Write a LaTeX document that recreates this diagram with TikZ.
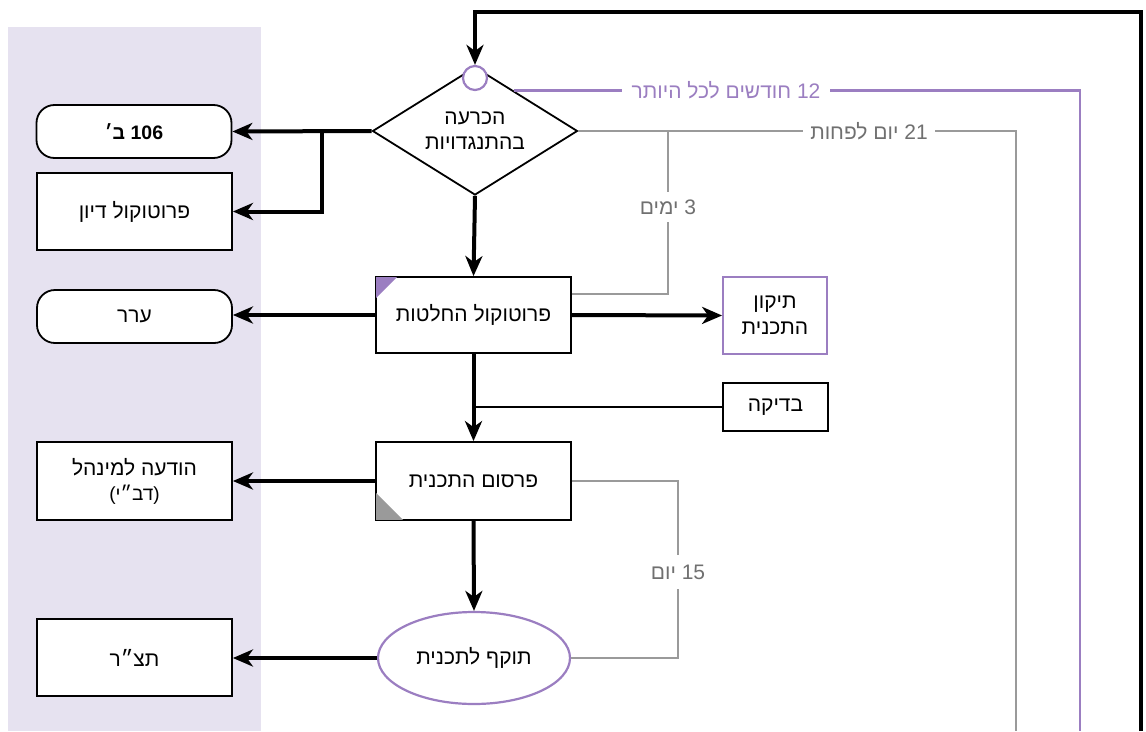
\documentclass[tikz,border=0pt]{standalone}
\usepackage{fontspec}
\setmainfont{Liberation Sans}
\newfontfamily\hebfont[Script=Hebrew]{Liberation Sans}
\TeXXeTstate=1
\usetikzlibrary{arrows.meta,shapes.geometric,calc}
\definecolor{bgl}{HTML}{E6E2F0}
\definecolor{purp}{HTML}{9B7EC1}
\definecolor{grayl}{HTML}{9A9A9A}
\definecolor{grayt}{HTML}{707070}
\newcommand{\heb}[1]{{\hebfont\beginR #1\endR}}
\newcommand{\num}[1]{\beginL #1\endL{}}
\tikzset{
  boxs/.style={draw=black, line width=1.8pt, fill=white, minimum width=195pt, minimum height=77pt, align=center, inner sep=0pt,
    font=\hebfont\fontsize{21}{26}\selectfont},
  rbox/.style={boxs, rounded corners=18pt, minimum height=53pt},
  flow/.style={line width=4pt, -{Stealth[length=20pt,width=17pt,inset=6pt]}},
  pline/.style={draw=purp, line width=2.4pt},
  gline/.style={draw=grayl, line width=2pt},
  lab/.style={fill=white, inner xsep=10pt, inner ysep=3pt, font=\hebfont\fontsize{21}{24}\selectfont},
}
\begin{document}
\begin{tikzpicture}[x=1pt,y=-1pt]
\useasboundingbox (0,0) rectangle (1146,731);
\fill[bgl] (8,27) rectangle (261,731);

% left column
\node[rbox, font=\hebfont\bfseries\fontsize{19.5}{22}\selectfont] (d106) at (134,131.5)
  {\heb{\num{106} ב׳}};
\node[boxs] (pdiyun) at (134.5,211.5) {\heb{פרוטוקול דיון}};
\node[rbox] (arar) at (134.5,316.5) {\heb{ערר}};
\node[boxs, minimum height=78pt] (hodaa) at (134.5,481) {\heb{הודעה למינהל}\\[-1pt]{\fontsize{19}{20}\selectfont\heb{(דב״י)}}};
\node[boxs] (tatzar) at (134.5,657.5) {\heb{תצ״ר}};

% center column
\node[diamond, draw=black, line width=1.8pt, fill=white, minimum width=205pt, minimum height=128pt, inner sep=0pt, aspect=1.6,
  align=center, font=\hebfont\fontsize{21}{25}\selectfont] (dia) at (475,131) {\heb{הכרעה}\\\heb{בהתנגדויות}};
\node[circle, draw=purp, line width=2.2pt, fill=white, minimum size=24pt, inner sep=0pt] (circ) at (475,78) {};
\node[boxs, minimum height=76pt] (pch) at (473.5,315) {\heb{פרוטוקול החלטות}};
\fill[purp] (pch.north west) ++(1,1) -- ++(21,0) -- ++(-21,21) -- cycle;
\node[boxs, draw=purp, minimum width=104pt] (tikun) at (775,315.5) {\heb{תיקון}\\\heb{התכנית}};
\node[boxs, minimum width=105pt, minimum height=48pt] (bdika) at (775.5,407) {\heb{בדיקה}};
\node[boxs, minimum height=78pt] (pirsum) at (473.5,481) {\heb{פרסום התכנית}};
\fill[grayl] (pirsum.south west) ++(1,-1) -- ++(27,0) -- ++(-27,-27) -- cycle;
\node[ellipse, draw=purp, line width=2.2pt, fill=white, minimum width=192pt, minimum height=92pt, inner sep=0pt,
  font=\hebfont\fontsize{21}{25}\selectfont] (tokef) at (474,658) {\heb{תוקף לתכנית}};

% free ends
\coordinate (loopend) at (1141,731);
\coordinate (pend) at (1080,731);
\coordinate (gend) at (1016,731);
\coordinate (pstart) at ($(dia.north)!0.375!(dia.east)$);

% top loop
\draw[flow] (loopend) |- (475,12) -- (circ.north);
% purple and gray timing lines
\draw[pline] (pstart) -- (pstart -| pend) -- (pend);
\draw[gline] (dia.east) -- (dia.east -| gend) -- (gend);
\draw[gline] ($(pch.north east)+(0,18)$) -| (668,131);
\draw[gline] (pirsum.east) -- (678,481) |- (tokef.east);

% labels
\node[lab, text=purp] (l12) at (726,90) {\heb{\num{12} חודשים לכל היותר}};
\node[lab, text=grayt, inner xsep=7pt] (l21) at (869,131) {\heb{\num{21} יום לפחות}};
\node[lab, text=grayt, inner xsep=3pt, inner ysep=8pt] (l3) at (668,207) {\heb{\num{3} ימים}};
\node[lab, text=grayt, inner xsep=3pt, inner ysep=10pt] (l15) at (678,572) {\heb{\num{15} יום}};

% arrows
\draw[flow] (dia.west) -- (d106.east);
\draw[flow] (322,131) |- (pdiyun.east);
\draw[flow] (dia.south) -- (pch.north);
\draw[flow] (pch.west) -- (pch.west -| arar.east);
\draw[flow] (pch.east) -- (tikun.west);
\draw[flow] (pch.south) -- (pirsum.north);
\draw[line width=1.8pt] (bdika.west) -- (bdika.west -| pch.south);
\draw[flow] (pirsum.west) -- (hodaa.east);
\draw[flow] (pirsum.south) -- (tokef.north);
\draw[flow] (tokef.west) -- (tokef.west -| tatzar.east);
\end{tikzpicture}
\end{document}
